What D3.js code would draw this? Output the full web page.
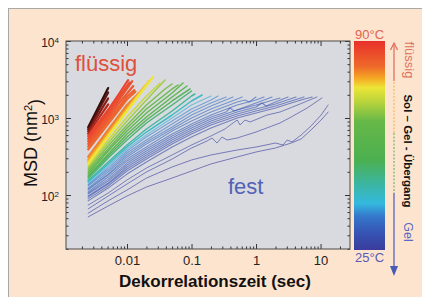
<!DOCTYPE html>
<html><head><meta charset="utf-8">
<script src="https://cdn.jsdelivr.net/npm/d3@7"></script>
<style>body{margin:0;background:#fff}svg{display:block}</style>
</head><body>
<svg id="c" width="422" height="297"></svg>
<script>
// ---------------- DATA ----------------
// MSD curves [lag time (s), MSD (nm^2)], with the temperature (°C) of each curve
const hotTemps = [90, 89.6, 89.2, 88.8, 88, 87, 86, 85, 84, 83, 81, 79, 77, 75.5];
const hotCurves = [
  [[0.0025,760],[0.0051,2450]],
  [[0.0025,715],[0.0051,2150]],
  [[0.0025,670],[0.0051,1800]],
  [[0.0025,625],[0.0051,1500]],
  [[0.0025,580],[0.0051,1280],[0.0075,2050],[0.0104,3100]],
  [[0.0025,540],[0.0051,1180],[0.0075,1880],[0.011,2900]],
  [[0.0025,500],[0.0051,1090],[0.0075,1720],[0.012,3000]],
  [[0.0025,460],[0.0051,1000],[0.0075,1560],[0.0125,2600]],
  [[0.0025,425],[0.0051,920],[0.01,1900],[0.013,2300]],
  [[0.0025,390],[0.0051,840],[0.01,1750],[0.0135,2200]],
  [[0.0025,312],[0.0051,698],[0.01,1475],[0.0159,2176]],
  [[0.0025,285],[0.0051,638],[0.01,1349],[0.019,2604]],
  [[0.0025,268],[0.0051,601],[0.01,1270],[0.0219,3024]],
  [[0.0025,253],[0.0051,584],[0.01,1233],[0.0197,2604],[0.0253,3408]]
];
const gelTemps = [72, 69, 66, 63, 60, 57, 54, 50, 46, 42, 38.5, 36, 35, 34, 33.3, 32.6, 32, 31.3, 30.6, 30, 29.3, 28.6, 27.8];
const gelCurves = [
  [[0.0025,238],[0.0051,518],[0.01,1030],[0.02,1931],[0.0325,2848]],
  [[0.0025,224],[0.0051,473],[0.01,914],[0.02,1713],[0.0388,3116]],
  [[0.0025,211],[0.0051,433],[0.01,811],[0.02,1475],[0.0388,2381],[0.05,2765]],
  [[0.0025,199],[0.0051,396],[0.01,742],[0.02,1309],[0.05,2381],[0.0618,2683]],
  [[0.0025,187],[0.0051,373],[0.01,678],[0.02,1161],[0.05,2112],[0.0738,2848]],
  [[0.0025,177],[0.0051,341],[0.01,620],[0.02,1030],[0.05,1874],[0.0851,2604]],
  [[0.0025,171],[0.0051,321],[0.01,566],[0.02,942],[0.05,1663],[0.0948,2381]],
  [[0.0025,161],[0.0051,302],[0.01,518],[0.02,861],[0.05,1475],[0.1,2242]],
  [[0.0025,152],[0.0051,268],[0.01,446],[0.02,720],[0.05,1233],[0.1,1931],[0.113,2050]],
  [[0.0025,148],[0.0051,253],[0.01,420],[0.02,658],[0.05,1094],[0.1,1663],[0.146,1990]],
  [[0.0025,139],[0.0051,238],[0.01,396],[0.02,601],[0.05,1000],[0.1,1475],[0.2,1931]],
  [[0.0025,135],[0.0051,224],[0.01,373],[0.02,566],[0.05,914],[0.1,1309],[0.2,1713],[0.258,1931]],
  [[0.0025,131],[0.0051,211],[0.01,351],[0.02,518],[0.05,836],[0.1,1196],[0.2,1566],[0.343,1874]],
  [[0.0025,123],[0.0051,199],[0.01,331],[0.02,488],[0.05,764],[0.1,1094],[0.2,1432],[0.44,1874]],
  [[0.0025,120],[0.0051,187],[0.01,312],[0.02,459],[0.05,720],[0.1,1000],[0.2,1309],[0.51,1765],[0.61,1874]],
  [[0.0025,116],[0.0051,182],[0.01,293],[0.02,420],[0.05,678],[0.1,914],[0.2,1196],[0.51,1614],[0.675,1713],[0.78,1614],[1,1874]],
  [[0.0025,110],[0.0051,171],[0.01,277],[0.02,396],[0.05,620],[0.1,836],[0.2,1094],[0.51,1475],[1,1713],[1.33,1874]],
  [[0.0025,106],[0.0051,161],[0.01,260],[0.02,373],[0.05,584],[0.1,787],[0.2,1030],[0.343,1196],[0.395,1349],[0.456,1233],[1,1566],[1.77,1874]],
  [[0.0025,103],[0.0051,152],[0.01,245],[0.02,351],[0.05,550],[0.1,742],[0.2,971],[0.51,1270],[1,1475],[2.35,1819]],
  [[0.0025,97],[0.0051,143],[0.01,231],[0.02,331],[0.05,518],[0.1,698],[0.2,914],[0.51,1196],[1,1390],[1.24,1566],[1.43,1432],[2,1614],[3.14,1874]],
  [[0.0025,94],[0.0051,139],[0.01,218],[0.02,312],[0.05,488],[0.1,658],[0.2,861],[0.51,1127],[1,1309],[2,1520],[4.17,1874]],
  [[0.0025,89],[0.0051,131],[0.01,205],[0.02,293],[0.05,459],[0.1,620],[0.2,811],[0.51,1062],[1,1233],[2,1432],[3.5,1663],[5.55,1874]],
  [[0.0025,84],[0.0051,123],[0.01,187],[0.02,268],[0.05,420],[0.1,566],[0.2,742],[0.51,1000],[1,1161],[2,1349],[3.5,1566],[5,1713],[7.4,1874]]
];
const coldTemps = [27, 26.2, 25.5, 25];
const coldCurves = [
  [[0.0025,74],[0.0051,106],[0.01,157],[0.02,224],[0.05,331],[0.1,446],[0.2,584],[0.33,720],[0.44,861],[0.51,942],[0.565,811],[0.675,942],[0.81,888],[1.48,1094],[2.35,1196],[4.8,1520],[8.8,1874]],
  [[0.0025,66],[0.0051,97],[0.01,139],[0.02,199],[0.05,293],[0.1,408],[0.174,503],[0.208,550],[0.248,473],[0.297,566],[0.355,518],[0.51,550],[1,658],[2.35,861],[3.5,1030],[6.2,1349],[10.5,1819]],
  [[0.0025,58],[0.0051,84],[0.01,116],[0.02,166],[0.05,231],[0.1,285],[0.2,331],[0.51,384],[1,420],[2,473],[2.62,446],[3.03,518],[3.61,488],[5,601],[7.1,787],[10.2,1094],[13.1,1475]],
  [[0.0025,52],[0.0051,72],[0.01,97],[0.02,127],[0.05,166],[0.1,205],[0.2,253],[0.51,312],[1,362],[2,408],[3.5,473],[5,534],[7.1,698],[10.2,942],[13.1,1196]]
];
const xTickValues = [0.01, 0.1, 1, 10];
const xTickLabels = ["0.01", "0.1", "1", "10"];
const yTickValues = [100, 1000, 10000];
const yTickExponents = ["2", "3", "4"];
const tempRange = [25, 90];

// ---------------- STYLE / LAYOUT ----------------
const FONT = "'Liberation Sans', Arial, Helvetica, sans-serif";
const P = {l: 66, t: 41, r: 350, b: 249};
const barStops = [
  [90, "#e8302a"], [82, "#ee6a2a"], [78.5, "#f5a623"], [75.5, "#ede537"], [71, "#b8d43c"],
  [65, "#66b848"], [53, "#4cb050"], [46, "#3cb59c"], [39.5, "#34b9df"], [35.5, "#3578cc"],
  [30, "#3652b2"], [25, "#3a3c9c"]
];
const barColor = d3.scaleLinear().domain(barStops.map(s => s[0])).range(barStops.map(s => s[1])).interpolate(d3.interpolateRgb);
const lineColor = T => T > 88.5 ? d3.interpolateRgb("#d42a1c", "#2a0604")((T - 88.5) / 1.5) : barColor(T);

const svg = d3.select("#c");
svg.append("rect").attr("width", 422).attr("height", 297).attr("fill", "#fff");
svg.append("rect").attr("x", 8.5).attr("y", 8.5).attr("width", 420).attr("height", 296)
  .attr("fill", "#fde4cf").attr("stroke", "#a8a8a8").attr("stroke-width", 1);

const x = d3.scaleLog().domain([0.001133, 28.6]).range([P.l, P.r]);
const y = d3.scaleLog().domain([19.9, 10000]).range([P.b, P.t]);

svg.append("rect").attr("x", P.l).attr("y", P.t).attr("width", P.r - P.l).attr("height", P.b - P.t)
  .attr("fill", "#d9dadf");

const defs = svg.append("defs");
defs.append("clipPath").attr("id", "clip").append("rect")
  .attr("x", P.l).attr("y", P.t).attr("width", P.r - P.l).attr("height", P.b - P.t);

const line = d3.line().x(d => x(d[0])).y(d => y(d[1]));
const gLines = svg.append("g").attr("clip-path", "url(#clip)").attr("fill", "none")
  .attr("stroke-linejoin", "round").attr("stroke-linecap", "round");

function drawSet(curves, temps, widthFn, opacityFn) {
  gLines.append("g").selectAll("path").data(curves).join("path")
    .attr("d", line)
    .attr("stroke", (d, i) => lineColor(temps[i]))
    .attr("stroke-width", (d, i) => widthFn(temps[i]))
    .attr("stroke-opacity", (d, i) => opacityFn(temps[i]));
}
drawSet(coldCurves, coldTemps, () => 1, () => 0.62);
drawSet(gelCurves, gelTemps, T => T < 40 ? 1.1 : 1.5, T => T < 40 ? 0.62 : 0.95);
drawSet(hotCurves, hotTemps, () => 2.2, () => 0.97);

// ---------------- AXES ----------------
function minorTicks(domain) {
  const out = [];
  for (let e = -4; e <= 5; e++) for (let k = 2; k <= 9; k++) {
    const v = k * Math.pow(10, e);
    if (v > domain[0] && v < domain[1]) out.push(v);
  }
  return out;
}
const xMinor = minorTicks(x.domain());
const yMinor = minorTicks(y.domain());

function axisGroup(gen, tr) {
  const g = svg.append("g").attr("transform", tr).call(gen);
  g.select(".domain").remove();
  g.selectAll("line").attr("stroke", "#333");
  g.attr("font-family", FONT);
  return g;
}
const xb = axisGroup(d3.axisBottom(x).tickValues(xTickValues).tickSize(-5).tickPadding(7)
  .tickFormat((d, i) => xTickLabels[i]), `translate(0,${P.b})`);
xb.selectAll("text").attr("font-size", 13).attr("fill", "#222");
axisGroup(d3.axisBottom(x).tickValues(xMinor).tickSize(-2.5).tickFormat(""), `translate(0,${P.b})`);
axisGroup(d3.axisTop(x).tickValues(xTickValues).tickSize(-5).tickFormat(""), `translate(0,${P.t})`);
axisGroup(d3.axisTop(x).tickValues(xMinor).tickSize(-2.5).tickFormat(""), `translate(0,${P.t})`);

const yl = axisGroup(d3.axisLeft(y).tickValues(yTickValues).tickSize(-5).tickPadding(7)
  .tickFormat(""), `translate(${P.l},0)`);
yl.selectAll("text").each(function (d, i) {
  const t = d3.select(this).attr("font-size", 12).attr("fill", "#222").attr("dy", "0.45em");
  t.text("10");
  t.append("tspan").attr("dy", "-0.55em").attr("font-size", "8px").text(yTickExponents[i]);
});
axisGroup(d3.axisLeft(y).tickValues(yMinor).tickSize(-2.5).tickFormat(""), `translate(${P.l},0)`);
axisGroup(d3.axisRight(y).tickValues(yTickValues).tickSize(-5).tickFormat(""), `translate(${P.r},0)`);
axisGroup(d3.axisRight(y).tickValues(yMinor).tickSize(-2.5).tickFormat(""), `translate(${P.r},0)`);

svg.append("rect").attr("x", P.l).attr("y", P.t).attr("width", P.r - P.l).attr("height", P.b - P.t)
  .attr("fill", "none").attr("stroke", "#4a4a4a").attr("stroke-width", 1);

// axis titles
svg.append("text").attr("x", 215).attr("y", 287).attr("text-anchor", "middle")
  .attr("font-family", FONT).attr("font-weight", "bold").attr("font-size", 17).attr("fill", "#111")
  .text("Dekorrelationszeit (sec)");
const yt = svg.append("text").attr("transform", "translate(37,143) rotate(-90)").attr("text-anchor", "middle")
  .attr("font-family", FONT).attr("font-size", 18).attr("fill", "#111");
yt.append("tspan").text("MSD (nm");
yt.append("tspan").attr("dy", "-0.5em").attr("font-size", 11).text("2");
yt.append("tspan").attr("dy", "0.5em").text(")");

// in-plot labels
svg.append("text").attr("x", 75).attr("y", 71).attr("font-family", FONT).attr("font-size", 22)
  .attr("fill", "#e0503a").text("flüssig");
svg.append("text").attr("x", 228).attr("y", 194).attr("font-family", FONT).attr("font-size", 22)
  .attr("fill", "#5262b6").text("fest");

// ---------------- COLORBAR ----------------
const cb = {x: 354, w: 31, t: 41, b: 250};
const tScale = d3.scaleLinear().domain([tempRange[1], tempRange[0]]).range([0, 1]);
const grad = defs.append("linearGradient").attr("id", "cbg").attr("x1", 0).attr("y1", 0).attr("x2", 0).attr("y2", 1);
barStops.forEach(s => grad.append("stop").attr("offset", tScale(s[0])).attr("stop-color", s[1]));
svg.append("rect").attr("x", cb.x).attr("y", cb.t).attr("width", cb.w).attr("height", cb.b - cb.t)
  .attr("fill", "url(#cbg)");
svg.append("text").attr("x", cb.x + cb.w / 2).attr("y", 39).attr("text-anchor", "middle")
  .attr("font-family", FONT).attr("font-size", 13).attr("fill", "#e06450").text(tempRange[1] + "°C");
svg.append("text").attr("x", cb.x + cb.w / 2).attr("y", 262).attr("text-anchor", "middle")
  .attr("font-family", FONT).attr("font-size", 13).attr("fill", "#5a5ab4").text(tempRange[0] + "°C");

// transition annotation
const ax = 394;
svg.append("line").attr("x1", ax).attr("x2", ax).attr("y1", 81).attr("y2", 44)
  .attr("stroke", "#e06a5a").attr("stroke-width", 1.2);
svg.append("path").attr("d", `M${ax - 3.5},50 L${ax},43 L${ax + 3.5},50`).attr("fill", "none")
  .attr("stroke", "#e06a5a").attr("stroke-width", 1.2);
svg.append("line").attr("x1", ax).attr("x2", ax).attr("y1", 82).attr("y2", 133)
  .attr("stroke", "#f0b040").attr("stroke-width", 1).attr("stroke-dasharray", "2,1.5");
svg.append("line").attr("x1", ax).attr("x2", ax).attr("y1", 133).attr("y2", 193)
  .attr("stroke", "#4fae5a").attr("stroke-width", 1).attr("stroke-dasharray", "2,1.5");
svg.append("line").attr("x1", ax).attr("x2", ax).attr("y1", 193).attr("y2", 268)
  .attr("stroke", "#4a5ab8").attr("stroke-width", 1.2);
svg.append("path").attr("d", `M${ax - 4},266 L${ax + 4},266 L${ax},276 Z`).attr("fill", "#4a5ab8");

svg.append("text").attr("transform", "translate(405,60) rotate(90)").attr("text-anchor", "middle")
  .attr("font-family", FONT).attr("font-size", 13).attr("fill", "#e0705a").text("flüssig");
svg.append("text").attr("transform", "translate(404,151) rotate(90)").attr("text-anchor", "middle")
  .attr("font-family", FONT).attr("font-size", 11.5).attr("font-weight", "bold").attr("fill", "#111")
  .text("Sol – Gel - Übergang");
svg.append("text").attr("transform", "translate(404,232) rotate(90)").attr("text-anchor", "middle")
  .attr("font-family", FONT).attr("font-size", 12.5).attr("fill", "#5a6ac0").text("Gel");
</script>
</body></html>
